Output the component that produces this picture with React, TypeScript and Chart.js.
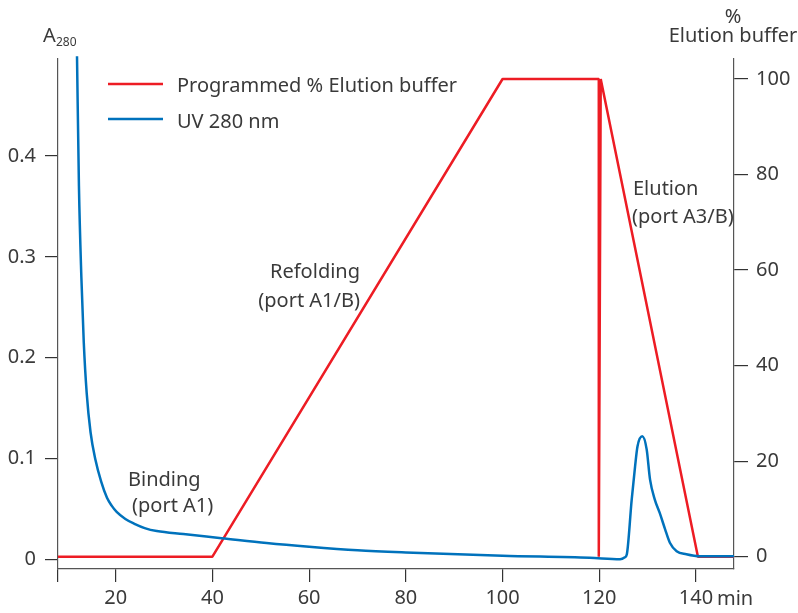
import React, { useEffect, useRef } from 'react';
import { Chart, registerables } from 'chart.js';

Chart.register(...registerables);

// ---- Data ----
const uvTime = [12.0, 12.4, 12.9, 13.4, 14.0, 14.8, 15.8, 17.0, 18.2, 19.2, 20.2, 22.0, 24.0, 26.0, 28.5, 34, 41.9, 51.2, 60, 70, 80, 100, 118, 124.3, 125.3, 125.7, 126.7, 127.4, 127.9, 128.9, 129.8, 130.5, 131.5, 132.5, 133.6, 134.6, 136, 138, 140.8, 147.86];
const uvAbs = [0.499, 0.37, 0.28, 0.215, 0.165, 0.126, 0.099, 0.077, 0.061, 0.053, 0.047, 0.04, 0.035, 0.031, 0.028, 0.025, 0.021, 0.0162, 0.0125, 0.009, 0.0068, 0.0035, 0.0015, 0.0, 0.002, 0.005, 0.059, 0.092, 0.112, 0.122, 0.109, 0.079, 0.059, 0.046, 0.03, 0.0165, 0.008, 0.005, 0.003, 0.003];

const bufferTime = [8.07, 40, 100, 119.9, 119.9, 120.3, 140.4, 147.86];
const bufferPct = [0, 0, 100, 100, 0, 100, 0, 0];

const xTicks = [8.07, 20, 40, 60, 80, 100, 120, 140];
const leftTicks = [0, 0.1, 0.2, 0.3, 0.4];
const rightTicks = [0, 20, 40, 60, 80, 100];

const seriesNames = ['Programmed % Elution buffer', 'UV 280 nm'];

const RED = '#ed1c24';
const BLUE = '#0072bc';
const TEXT = '#3a3a3a';
const AXIS = '#555555';
const FONT = '"Noto Sans", sans-serif';

const textPlugin = {
  id: 'customTexts',
  afterDraw(chart: any) {
    const ctx = chart.ctx as CanvasRenderingContext2D;
    ctx.save();
    ctx.fillStyle = TEXT;
    ctx.textBaseline = 'alphabetic';
    ctx.font = `20px ${FONT}`;

    // legend
    ctx.lineWidth = 2.5;
    ctx.strokeStyle = RED;
    ctx.beginPath();
    ctx.moveTo(108, 84);
    ctx.lineTo(163, 84);
    ctx.stroke();
    ctx.strokeStyle = BLUE;
    ctx.beginPath();
    ctx.moveTo(108, 119);
    ctx.lineTo(163, 119);
    ctx.stroke();
    ctx.textAlign = 'left';
    ctx.fillText(seriesNames[0], 177, 92);
    ctx.fillText(seriesNames[1], 177, 128);

    // annotations
    ctx.textAlign = 'right';
    ctx.fillText('Refolding', 360, 278);
    ctx.fillText('(port A1/B)', 360, 307);
    ctx.textAlign = 'left';
    ctx.fillText('Binding', 128, 486);
    ctx.fillText('(port A1)', 132, 512);
    ctx.fillText('Elution', 633, 195);
    ctx.fillText('(port A3/B)', 632, 223);

    // x unit
    ctx.fillText('min', 717, 605);

    // axis titles
    ctx.fillText('A', 43, 42);
    ctx.font = `12px ${FONT}`;
    ctx.fillText('280', 56, 46);
    ctx.font = `20px ${FONT}`;
    ctx.textAlign = 'center';
    ctx.fillText('%', 733, 23);
    ctx.fillText('Elution buffer', 733, 42);
    ctx.restore();
  },
};

export default function App() {
  const ref = useRef<HTMLCanvasElement | null>(null);

  useEffect(() => {
    if (!ref.current) return;
    const uvData = uvTime.map((t, i) => ({ x: t, y: uvAbs[i] }));
    const bufData = bufferTime.map((t, i) => ({ x: t, y: bufferPct[i] }));
    const chart = new Chart(ref.current, {
      type: 'line',
      data: {
        datasets: [
          {
            label: seriesNames[1],
            data: uvData,
            yAxisID: 'y',
            borderColor: BLUE,
            borderWidth: 2.5,
            pointRadius: 0,
            cubicInterpolationMode: 'monotone',
            clip: false as any,
            order: 0,
          },
          {
            label: seriesNames[0],
            data: bufData,
            yAxisID: 'y1',
            borderColor: RED,
            borderWidth: 2.5,
            borderJoinStyle: 'bevel',
            pointRadius: 0,
            tension: 0,
            order: 1,
          },
        ],
      },
      options: {
        animation: false,
        responsive: false,
        maintainAspectRatio: false,
        layout: { padding: { top: 59, left: 0, right: 0, bottom: 0 } },
        plugins: {
          legend: { display: false },
          tooltip: { enabled: false },
          title: { display: false },
        },
        scales: {
          x: {
            type: 'linear',
            min: 8.07,
            max: 147.86,
            afterBuildTicks: (s: any) => {
              s.ticks = xTicks.map((v) => ({ value: v }));
            },
            afterFit: (s: any) => {
              s.height = 44;
            },
            ticks: {
              autoSkip: false,
              maxRotation: 0,
              padding: 4,
              color: TEXT,
              font: { family: FONT, size: 20 },
              callback: (v: any) => (xTicks.indexOf(v) > 0 ? String(v) : ''),
            },
            grid: {
              drawOnChartArea: false,
              drawTicks: true,
              tickLength: 13,
              color: AXIS,
              tickColor: '#333',
              lineWidth: 1.2,
            },
            border: { display: true, color: AXIS, width: 1.2 },
          },
          y: {
            type: 'linear',
            position: 'left',
            min: -0.0096,
            max: 0.4962,
            afterBuildTicks: (s: any) => {
              s.ticks = leftTicks.map((v) => ({ value: v }));
            },
            afterFit: (s: any) => {
              s.width = 58;
            },
            ticks: {
              padding: 9,
              color: TEXT,
              font: { family: FONT, size: 20 },
              callback: (v: any) => (v === 0 ? '0' : Number(v).toFixed(1)),
            },
            grid: {
              drawOnChartArea: false,
              drawTicks: true,
              tickLength: 13,
              color: AXIS,
              tickColor: '#333',
              lineWidth: 1.2,
            },
            border: { display: true, color: AXIS, width: 1.2 },
          },
          y1: {
            type: 'linear',
            position: 'right',
            min: -2.58,
            max: 104.19,
            afterBuildTicks: (s: any) => {
              s.ticks = rightTicks.map((v) => ({ value: v }));
            },
            afterFit: (s: any) => {
              s.width = 64;
            },
            ticks: {
              padding: 8,
              color: TEXT,
              font: { family: FONT, size: 20 },
              callback: (v: any) => String(v),
            },
            grid: {
              drawOnChartArea: false,
              drawTicks: true,
              tickLength: 14,
              color: AXIS,
              tickColor: '#333',
              lineWidth: 1.2,
            },
            border: { display: true, color: AXIS, width: 1.2 },
          },
        },
      },
      plugins: [textPlugin],
    });
    return () => chart.destroy();
  }, []);

  return (
    <div style={{ position: 'fixed', left: 0, top: 0, width: 798, height: 613, background: '#fff' }}>
      <canvas ref={ref} width={798} height={613} style={{ width: 798, height: 613, display: 'block' }} />
    </div>
  );
}
